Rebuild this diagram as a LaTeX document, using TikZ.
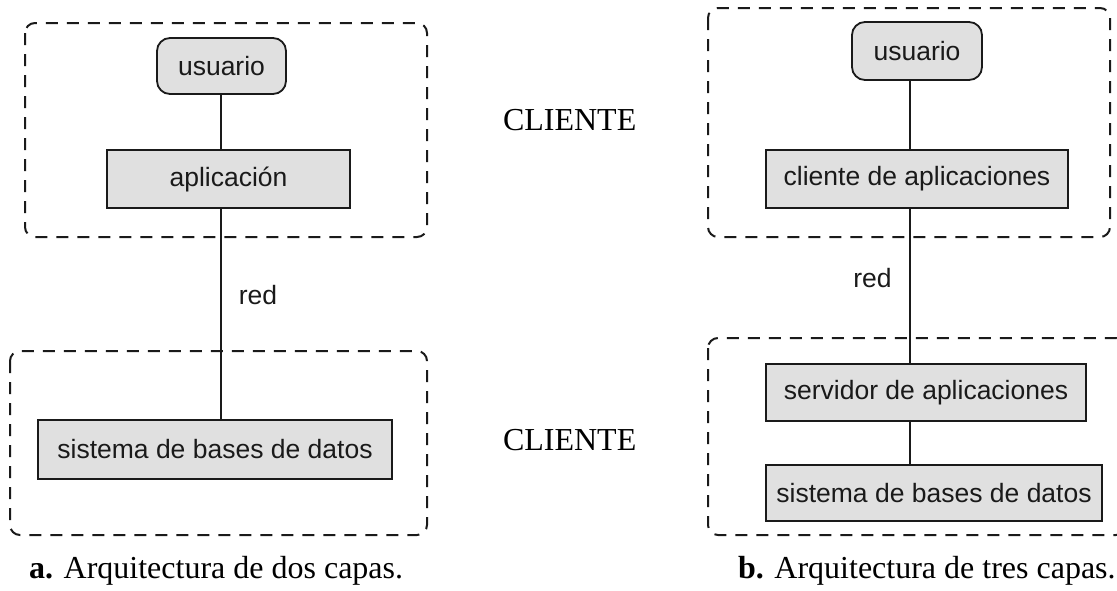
\documentclass[tikz,border=0pt]{standalone}
\usepackage{fontspec}
\setmainfont{Liberation Serif}
\newfontfamily\boxfont{Liberation Sans}
\definecolor{boxfill}{HTML}{E0E0E0}
\definecolor{inkc}{HTML}{1A1A1A}
\begin{document}
\begin{tikzpicture}[x=1pt,y=-1pt,
  every node/.style={inner sep=0pt, outer sep=0pt},
  boxtxt/.style={font=\boxfont\fontsize{26.5}{30}\selectfont, text=inkc},
  layerbox/.style={boxtxt, draw=inkc, line width=1.8pt, fill=boxfill, anchor=center},
  userbox/.style={layerbox, rounded corners=13pt},
  tierframe/.style={draw=inkc, line width=2pt, dash pattern=on 12pt off 9pt, rounded corners=10pt},
  wire/.style={draw=inkc, line width=1.8pt},
  sidelabel/.style={font=\fontsize{32}{36}\selectfont, anchor=base west},
  captxt/.style={font=\fontsize{32}{36}\selectfont, anchor=base west}
]
\useasboundingbox (0,0) rectangle (1117,590);
% ---------- left: two tiers ----------
\draw[tierframe] (25,23) rectangle (427,237);
\draw[tierframe] (10,351) rectangle (427,535);
\node[userbox, minimum width=129pt, minimum height=56pt] (ua) at (221.5,66) {usuario};
\node[layerbox, minimum width=243pt, minimum height=58pt] (apa) at (228.5,179) {aplicación};
\node[layerbox, minimum width=354pt, minimum height=59pt] (sba) at (215,449.5) {sistema de bases de datos};
\coordinate (ca) at (221,0);
\draw[wire] (ua.south -| ca) -- (apa.north -| ca);
\draw[wire] (apa.south -| ca) -- (sba.north -| ca);
\node[boxtxt] (reda) at (258,295) {red};
% ---------- middle labels ----------
\node[sidelabel] (cl1) at (503,130) {CLIENTE};
\node[sidelabel] (cl2) at (503,450) {CLIENTE};
% ---------- right: three tiers ----------
\draw[tierframe] (708,8) rectangle (1110,237);
\draw[tierframe] (708,338) rectangle (1126,535);
\node[userbox, minimum width=130pt, minimum height=58pt] (ub) at (917,51) {usuario};
\node[layerbox, minimum width=302pt, minimum height=58pt] (clb) at (917,179) {cliente de aplicaciones};
\node[layerbox, minimum width=320pt, minimum height=57pt] (svb) at (926,392.5) {servidor de aplicaciones};
\node[layerbox, minimum width=336pt, minimum height=56pt] (sbb) at (934,493) {sistema de bases de datos};
\coordinate (cb) at (910,0);
\draw[wire] (ub.south -| cb) -- (clb.north -| cb);
\draw[wire] (clb.south -| cb) -- (svb.north -| cb);
\draw[wire] (svb.south -| cb) -- (sbb.north -| cb);
\node[boxtxt] (redb) at (872.5,278) {red};
% ---------- captions ----------
\node[captxt] (capa) at (29,578) {\textbf{a.} Arquitectura de dos capas.};
\node[captxt] (capb) at (738,578) {\textbf{b.} Arquitectura de tres capas.};
\end{tikzpicture}
\end{document}
